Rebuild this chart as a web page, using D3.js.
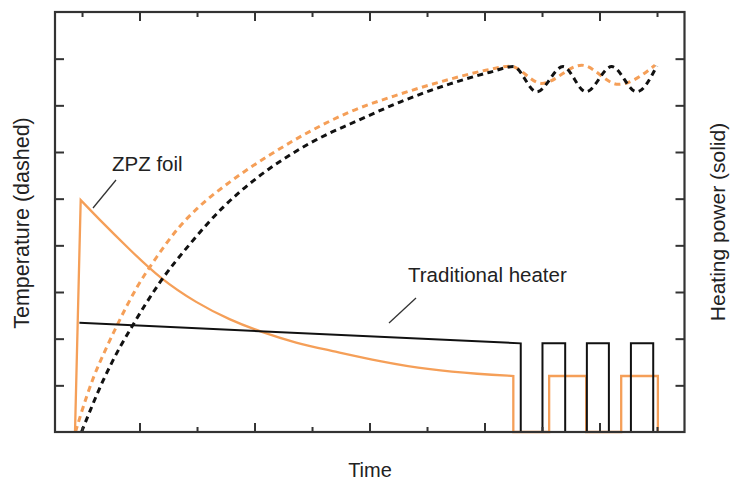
<!DOCTYPE html>
<html>
<head>
	<script src="https://d3js.org/d3.v7.min.js"></script>
	<meta charset="UTF-8">
	<style>
		body{
			margin: 0;
			background-color: #ffffff;
		}
		text{
			font-family: "Liberation Sans", Arial, sans-serif;
			fill: #222;
		}
	</style>
</head>
<body>
	<div class="chart"></div>
	<script type="text/javascript">
		// tick positions (time units, temperature units)
		var xMajorTicks = [1, 3, 5, 7, 9];
		var xMinorTicks = [0, 2, 4, 6, 8, 10];
		var yTicks = [1, 2, 3, 4, 5, 6, 7, 8];

		// temperature, ZPZ foil (orange dashed)
		var zpzTempT = [-0.113, -0.035, 0.197, 0.430, 0.603, 0.951, 1.299, 1.704, 1.995, 2.574, 3.270, 3.843, 4.661, 5.530, 6.400, 7.096, 7.443, 7.995, 8.690, 9.327, 9.965];
		var zpzTempV = [0, 0.32, 1.16, 1.82, 2.27, 3.09, 3.75, 4.41, 4.78, 5.36, 5.94, 6.36, 6.86, 7.24, 7.56, 7.77, 7.84, 7.47, 7.86, 7.45, 7.86];

		// temperature, traditional heater (black dashed)
		var tradTempT = [-0.009, 0.370, 0.661, 0.864, 1.357, 1.878, 2.457, 3.038, 3.675, 4.313, 4.661, 5.530, 6.400, 7.096, 7.501, 7.908, 8.365, 8.765, 9.212, 9.647, 9.995];
		var tradTempV = [0, 1.11, 1.82, 2.25, 3.21, 4.03, 4.82, 5.44, 5.98, 6.41, 6.60, 7.07, 7.46, 7.71, 7.83, 7.29, 7.83, 7.29, 7.83, 7.29, 7.84];

		// heating power, ZPZ foil (orange solid): spike, decay, then pulses
		var zpzRiseT = [-0.122, -0.023];
		var zpzRiseV = [0, 4.97];
		var zpzDecayT = [-0.023, 0.256, 0.835, 1.357, 1.995, 2.574, 3.096, 3.734, 4.313, 5.183, 6.052, 6.922, 7.501];
		var zpzDecayV = [4.97, 4.61, 3.90, 3.29, 2.76, 2.40, 2.15, 1.90, 1.75, 1.51, 1.33, 1.24, 1.20];
		var zpzPulseT = [7.501, 7.501, 8.124, 8.124, 8.768, 8.768, 9.377, 9.377, 10.015, 10.015];
		var zpzPulseV = [1.20, 0, 0, 1.20, 1.20, 0, 0, 1.20, 1.20, 0];

		// heating power, traditional heater (black solid)
		var tradPowerT = [-0.045, 7.630, 7.630, 8.008, 8.008, 8.403, 8.403, 8.780, 8.780, 9.163, 9.163, 9.546, 9.546, 9.934, 9.934];
		var tradPowerV = [2.34, 1.90, 0, 0, 1.90, 1.90, 0, 0, 1.90, 1.90, 0, 0, 1.90, 1.90, 0];

		var W = 731, H = 481;
		var pLeft = 55, pRight = 684.5, pTop = 12, pBottom = 432;
		var orange = "#f59f58";
		var dark = "#333";

		var svg = d3.select("div.chart")
					.append("svg")
					.attr("width", W)
					.attr("height", H);

		var xScale = d3.scaleLinear().domain([-0.47, 10.478]).range([pLeft, pRight]);
		var yScale = d3.scaleLinear().domain([0, 9]).range([pBottom, pTop]);

		function pts(ts, vs){
			return ts.map(function(t, i){ return [t, vs[i]]; });
		}

		var lineLin = d3.line()
			.x(function(d){ return xScale(d[0]); })
			.y(function(d){ return yScale(d[1]); });
		var lineSmooth = d3.line()
			.x(function(d){ return xScale(d[0]); })
			.y(function(d){ return yScale(d[1]); })
			.curve(d3.curveMonotoneX);
		var lineBasis = d3.line()
			.x(function(d){ return xScale(d[0]); })
			.y(function(d){ return yScale(d[1]); })
			.curve(d3.curveBasis);

		//orange solid
		var zpzPath = lineLin(pts(zpzRiseT, zpzRiseV))
			+ lineBasis(pts(zpzDecayT, zpzDecayV)).replace(/^M/, "L")
			+ lineLin(pts(zpzPulseT, zpzPulseV)).replace(/^M/, "L");
		svg.append("path")
			.attr("d", zpzPath)
			.attr("fill", "none")
			.attr("stroke", orange)
			.attr("stroke-width", 2.3)
			.attr("stroke-linejoin", "miter");

		//orange dashed
		svg.append("path")
			.attr("d", lineSmooth(pts(zpzTempT, zpzTempV)))
			.attr("fill", "none")
			.attr("stroke", orange)
			.attr("stroke-width", 3)
			.attr("stroke-dasharray", "6,4.5");

		//black solid
		svg.append("path")
			.attr("d", lineLin(pts(tradPowerT, tradPowerV)))
			.attr("fill", "none")
			.attr("stroke", "#111")
			.attr("stroke-width", 2);

		//black dashed
		svg.append("path")
			.attr("d", lineSmooth(pts(tradTempT, tradTempV)))
			.attr("fill", "none")
			.attr("stroke", "#111")
			.attr("stroke-width", 3)
			.attr("stroke-dasharray", "6,4.5");

		//axes: ticks pointing inward on all four sides
		function styleAxis(g){
			g.select(".domain").remove();
			g.selectAll(".tick line").attr("stroke", dark).attr("stroke-width", 2);
		}
		svg.append("g").attr("transform", "translate(0," + pBottom + ")")
			.call(d3.axisBottom(xScale).tickValues(xMajorTicks).tickSize(-9).tickFormat("")).call(styleAxis);
		svg.append("g").attr("transform", "translate(0," + pBottom + ")")
			.call(d3.axisBottom(xScale).tickValues(xMinorTicks).tickSize(-5).tickFormat("")).call(styleAxis);
		svg.append("g").attr("transform", "translate(0," + pTop + ")")
			.call(d3.axisTop(xScale).tickValues(xMajorTicks).tickSize(-9).tickFormat("")).call(styleAxis);
		svg.append("g").attr("transform", "translate(0," + pTop + ")")
			.call(d3.axisTop(xScale).tickValues(xMinorTicks).tickSize(-5).tickFormat("")).call(styleAxis);
		svg.append("g").attr("transform", "translate(" + pLeft + ",0)")
			.call(d3.axisLeft(yScale).tickValues(yTicks).tickSize(-9).tickFormat("")).call(styleAxis);
		svg.append("g").attr("transform", "translate(" + pRight + ",0)")
			.call(d3.axisRight(yScale).tickValues(yTicks).tickSize(-9).tickFormat("")).call(styleAxis);

		//frame
		svg.append("rect")
			.attr("x", pLeft).attr("y", pTop)
			.attr("width", pRight - pLeft).attr("height", pBottom - pTop)
			.attr("fill", "none")
			.attr("stroke", dark)
			.attr("stroke-width", 2.2);

		//labels
		svg.append("text").attr("x", 370).attr("y", 477).attr("text-anchor", "middle").style("font-size", "20px").text("Time");
		svg.append("text").attr("transform", "translate(29,223) rotate(-90)").attr("text-anchor", "middle").style("font-size", "21.5px").text("Temperature (dashed)");
		svg.append("text").attr("transform", "translate(725,222) rotate(-90)").attr("text-anchor", "middle").style("font-size", "21px").text("Heating power (solid)");

		//annotations
		svg.append("text").attr("x", 112).attr("y", 170.5).style("font-size", "20.5px").text("ZPZ foil");
		svg.append("line").attr("x1", 93).attr("y1", 208).attr("x2", 116).attr("y2", 180).attr("stroke", dark).attr("stroke-width", 1.3);
		svg.append("text").attr("x", 408).attr("y", 281.5).style("font-size", "20.5px").text("Traditional heater");
		svg.append("line").attr("x1", 389).attr("y1", 323).attr("x2", 416).attr("y2", 298).attr("stroke", dark).attr("stroke-width", 1.3);
	</script>
</body>
</html>
